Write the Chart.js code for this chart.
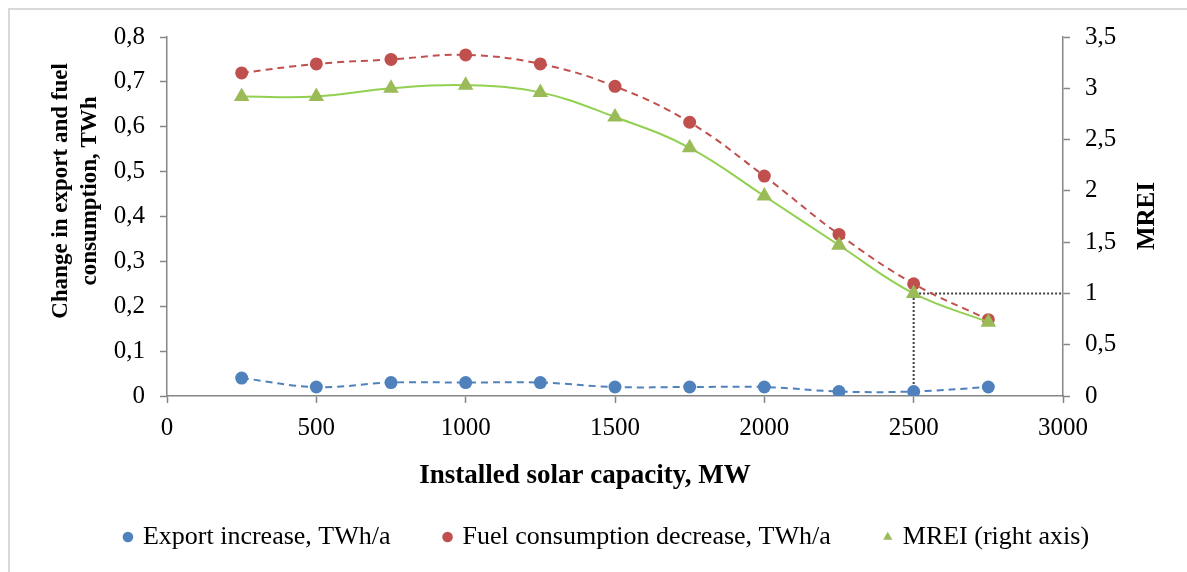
<!DOCTYPE html>
<html>
<head>
<meta charset="utf-8">
<script src="https://cdn.jsdelivr.net/npm/chart.js@4.4.1/dist/chart.umd.min.js"></script>
<style>
  html, body { margin: 0; padding: 0; background: #fff; overflow: hidden; }
  #wrap { position: relative; width: 1187px; height: 572px; overflow: hidden; }
  #frame { position: absolute; left: 8px; top: 8px; width: 1200px; height: 600px;
           border-left: 2px solid #d9d9d9; border-top: 2px solid #d9d9d9; }
  canvas { position: absolute; left: 0; top: 0; }
</style>
</head>
<body>
<div id="wrap">
  <div id="frame"></div>
  <canvas id="solarChart" width="1187" height="572"></canvas>
</div>
<script>
// installed solar capacity, MW
const capacity = [250, 500, 750, 1000, 1250, 1500, 1750, 2000, 2250, 2500, 2750];
// TWh/a, left axis
const exportIncrease = [0.04, 0.02, 0.03, 0.03, 0.03, 0.02, 0.02, 0.02, 0.01, 0.01, 0.02];
const fuelDecrease = [0.72, 0.74, 0.75, 0.76, 0.74, 0.69, 0.61, 0.49, 0.36, 0.25, 0.17];
// MREI, right axis
const mrei = [2.92, 2.92, 3.0, 3.03, 2.96, 2.72, 2.42, 1.95, 1.47, 1.0, 0.72];
// dotted guide at MREI = 1
const guideX = [2500, 2500, 3000];
const guideY = [0, 1, 1];

// axis titles
const leftTitle = ['Change in export and fuel', 'consumption, TWh'];
const bottomTitle = 'Installed solar capacity, MW';
const rightTitleText = 'MREI';

const FONT = "'Liberation Serif', 'Times New Roman', serif";
const AXIS_GREY = '#868686';

function pts(xs, ys) {
    return xs.map((x, i) => ({ x: x, y: ys[i] }));
}
function comma(v) {
    return String(Math.round(v * 10) / 10).replace('.', ',');
}

// Excel puts the titles a little off-centre, so draw them by hand
const axisTitles = {
    id: 'axisTitles',
    afterDraw(chart) {
        const ctx = chart.ctx;
        ctx.save();
        ctx.fillStyle = '#000';
        ctx.textAlign = 'center';
        ctx.textBaseline = 'middle';

        ctx.font = 'bold 27px ' + FONT;
        ctx.fillText(bottomTitle, 585, 476);

        ctx.save();
        ctx.translate(61, 191);
        ctx.rotate(-Math.PI / 2);
        ctx.font = 'bold 23px ' + FONT;
        leftTitle.forEach((line, i) => ctx.fillText(line, 0, i * 29));
        ctx.restore();

        ctx.translate(1148, 216);
        ctx.rotate(-Math.PI / 2);
        ctx.font = 'bold 25px ' + FONT;
        ctx.fillText(rightTitleText, 0, 0);
        ctx.restore();
    }
};

const ctx = document.getElementById('solarChart').getContext('2d');
const solarChart = new Chart(ctx, {
    type: 'line',
    data: {
        datasets: [{
            label: 'Export increase, TWh/a',
            data: pts(capacity, exportIncrease),
            yAxisID: 'y',
            borderColor: '#4F81BD',
            backgroundColor: '#4F81BD',
            borderWidth: 2,
            borderDash: [7, 5],
            tension: 0.4,
            pointStyle: 'circle',
            pointRadius: 6.5,
            pointBorderWidth: 0,
            order: 2
        }, {
            label: 'Fuel consumption decrease, TWh/a',
            data: pts(capacity, fuelDecrease),
            yAxisID: 'y',
            borderColor: '#C0504D',
            backgroundColor: '#C0504D',
            borderWidth: 2,
            borderDash: [7, 5],
            tension: 0.4,
            pointStyle: 'circle',
            pointRadius: 6.5,
            pointBorderWidth: 0,
            order: 1
        }, {
            label: 'MREI (right axis)',
            data: pts(capacity, mrei),
            yAxisID: 'y1',
            borderColor: '#92D050',
            backgroundColor: '#9BBB59',
            pointBackgroundColor: '#9BBB59',
            borderWidth: 2,
            tension: 0.4,
            pointStyle: 'triangle',
            pointRadius: 9,
            pointBorderWidth: 0,
            order: 0
        }, {
            label: 'guide',
            data: pts(guideX, guideY),
            yAxisID: 'y1',
            borderColor: '#404040',
            borderWidth: 2,
            borderDash: [2, 2],
            tension: 0,
            pointRadius: 0,
            order: 3
        }]
    },
    options: {
        responsive: false,
        animation: false,
        events: [],
        layout: { padding: { left: 28, top: 37, right: 0, bottom: 12 } },
        scales: {
            x: {
                type: 'linear',
                min: 0,
                max: 3000,
                afterFit: s => { s.height = 73; },
                ticks: { stepSize: 500, color: '#000', padding: 10, callback: v => String(v), font: { family: FONT, size: 25 } },
                grid: { drawOnChartArea: false, tickLength: 7, tickColor: AXIS_GREY, tickWidth: 1.5 },
                border: { color: AXIS_GREY, width: 1.5 }
            },
            y: {
                position: 'left',
                min: 0,
                max: 0.8,
                afterFit: s => { s.width = 139; },
                ticks: { stepSize: 0.1, color: '#000', padding: 15, callback: v => comma(v), font: { family: FONT, size: 25 } },
                grid: { drawOnChartArea: false, tickLength: 7, tickColor: AXIS_GREY, tickWidth: 1.5 },
                border: { color: AXIS_GREY, width: 1.5 }
            },
            y1: {
                position: 'right',
                min: 0,
                max: 3.5,
                afterFit: s => { s.width = 124; },
                ticks: { stepSize: 0.5, color: '#000', padding: 15, callback: v => comma(v), font: { family: FONT, size: 25 } },
                grid: { drawOnChartArea: false, tickLength: 7, tickColor: AXIS_GREY, tickWidth: 1.5 },
                border: { color: AXIS_GREY, width: 1.5 }
            }
        },
        plugins: {
            legend: {
                position: 'bottom',
                labels: {
                    color: '#000',
                    font: { family: FONT, size: 26 },
                    usePointStyle: true,
                    boxWidth: 4,
                    boxHeight: 7.5,
                    padding: 55,
                    filter: item => item.text !== 'guide',
                    sort: (a, b) => a.datasetIndex - b.datasetIndex
                }
            },
            tooltip: { enabled: false }
        }
    },
    plugins: [axisTitles]
});
</script>
</body>
</html>
